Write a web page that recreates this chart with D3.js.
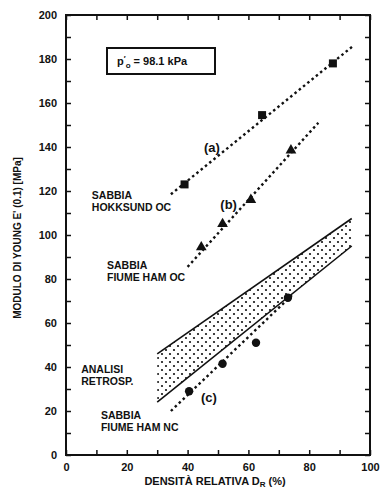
<!DOCTYPE html>
<head>
  <meta charset="utf-8">
  <script src="https://d3js.org/d3.v7.min.js"></script>
  <style>
    body { margin: 0; background: #fff; }
    text { font-family: "Liberation Sans", Arial, sans-serif; font-weight: bold; fill: #111; }
    .axis text { font-size: 11px; }
    .axis line { stroke: #111; stroke-width: 1.5; }
    .axis path { display: none; }
    .note { font-size: 10.5px; }
    .tag { font-size: 13px; }
    .trend { fill: none; stroke: #111; stroke-width: 2.4; stroke-dasharray: 2.5 3; }
    .band-edge { fill: none; stroke: #111; stroke-width: 1.6; }
  </style>
</head>
<body>
  <svg id="chart" width="382" height="488"></svg>
  <script>
    // values (D_R %, E' MPa)
    var xTicks = [0, 10, 20, 30, 40, 50, 60, 70, 80, 90, 100];
    var yTicks = d3.range(0, 201, 10);
    var hokksund = [[39, 123], [64.5, 154.5], [87.8, 178]];
    var hokksundFit = [[34.5, 118.5], [94.5, 186]];
    var hamOC = [[44.5, 94.5], [51.5, 105], [60.8, 116], [74, 138.5]];
    var hamOCFit = [[40, 85.5], [83, 151]];
    var hamNC = [[40.5, 29], [51.5, 41.5], [62.5, 51], [73, 71.5]];
    var hamNCFit = [[34.5, 20], [75, 73.5]];
    var bandUpper = [[30, 46], [94, 107.5]];
    var bandLower = [[30, 24], [94, 95]];
    var seriesTags = [['(a)', 48, 140], ['(b)', 53.5, 114], ['(c)', 47, 26]];
    var notes = [
      [['SABBIA', 'HOKKSUND OC'], 8.5, 116.5],
      [['SABBIA', 'FIUME HAM OC'], 13.5, 84.5],
      [['ANALISI', 'RETROSP.'], 5, 37.5],
      [['SABBIA', 'FIUME HAM NC'], 11.5, 16.5]
    ];

    var chart = d3.select('#chart');
    var x = d3.scaleLinear().domain([0, 100]).range([66, 370]);
    var y = d3.scaleLinear().domain([0, 200]).range([455, 15]);
    var line = d3.line().x((d) => x(d[0])).y((d) => y(d[1]));

    var defs = chart.append('defs');
    var pat = defs.append('pattern')
      .attr('id', 'dots')
      .attr('patternUnits', 'userSpaceOnUse')
      .attr('width', 8).attr('height', 8);
    pat.append('circle').attr('cx', 2).attr('cy', 2).attr('r', 1.1).attr('fill', '#111');
    pat.append('circle').attr('cx', 6).attr('cy', 6).attr('r', 1.1).attr('fill', '#111');

    // axes, ticks pointing into the frame
    chart.append('g')
      .attr('class', 'axis')
      .attr('transform', 'translate(0,' + y(0) + ')')
      .call(d3.axisBottom(x).tickValues(xTicks).tickSize(-5).tickSizeOuter(0).tickPadding(8)
        .tickFormat((d) => d % 20 === 0 ? d : ''));
    chart.append('g')
      .attr('class', 'axis')
      .attr('transform', 'translate(0,' + y(200) + ')')
      .call(d3.axisTop(x).tickValues(xTicks).tickSize(-5).tickSizeOuter(0).tickFormat(''));
    chart.append('g')
      .attr('class', 'axis')
      .attr('transform', 'translate(' + x(0) + ',0)')
      .call(d3.axisLeft(y).tickValues(yTicks).tickSize(-5).tickSizeOuter(0).tickPadding(9)
        .tickFormat((d) => d % 20 === 0 ? d : ''));
    chart.append('g')
      .attr('class', 'axis')
      .attr('transform', 'translate(' + x(100) + ',0)')
      .call(d3.axisRight(y).tickValues(yTicks).tickSize(-5).tickSizeOuter(0).tickFormat(''));

    chart.append('rect')
      .attr('x', x(0)).attr('y', y(200))
      .attr('width', x(100) - x(0)).attr('height', y(0) - y(200))
      .attr('fill', 'none').attr('stroke', '#111').attr('stroke-width', 2);

    // back-analysis band
    chart.append('path')
      .attr('d', line(bandUpper.concat(bandLower.slice().reverse())) + 'Z')
      .attr('fill', 'url(#dots)');
    chart.append('path').attr('class', 'band-edge').attr('d', line(bandUpper));
    chart.append('path').attr('class', 'band-edge').attr('d', line(bandLower));

    // fitted trends
    [hokksundFit, hamOCFit, hamNCFit].forEach((f) => {
      chart.append('path').attr('class', 'trend').attr('d', line(f));
    });

    chart.selectAll('rect.sq').data(hokksund).join('rect')
      .attr('class', 'sq')
      .attr('x', (d) => x(d[0]) - 4).attr('y', (d) => y(d[1]) - 4)
      .attr('width', 8).attr('height', 8).attr('fill', '#111');

    chart.selectAll('path.tri').data(hamOC).join('path')
      .attr('class', 'tri')
      .attr('transform', (d) => 'translate(' + x(d[0]) + ',' + y(d[1]) + ')')
      .attr('d', d3.symbol(d3.symbolTriangle, 50))
      .attr('fill', '#111');

    chart.selectAll('circle.pt').data(hamNC).join('circle')
      .attr('class', 'pt')
      .attr('cx', (d) => x(d[0])).attr('cy', (d) => y(d[1]))
      .attr('r', 4.2).attr('fill', '#111');

    seriesTags.forEach((t) => {
      chart.append('text').attr('class', 'tag')
        .attr('x', x(t[1])).attr('y', y(t[2]) + 4.5)
        .attr('text-anchor', 'middle').text(t[0]);
    });

    notes.forEach((n) => {
      var t = chart.append('text').attr('class', 'note')
        .attr('x', x(n[1])).attr('y', y(n[2]));
      n[0].forEach((s, i) => {
        t.append('tspan').attr('x', x(n[1])).attr('dy', i ? 12 : 0).text(s);
      });
    });

    // pressure box
    chart.append('rect')
      .attr('x', 107).attr('y', 48).attr('width', 108).attr('height', 26)
      .attr('fill', 'none').attr('stroke', '#111').attr('stroke-width', 2);
    var p = chart.append('text').attr('x', 117).attr('y', 65).style('font-size', '11px');
    p.append('tspan').text('p');
    p.append('tspan').attr('dy', -4).style('font-size', '8px').text('\u2032');
    p.append('tspan').attr('dy', 7).style('font-size', '8px').text('o');
    p.append('tspan').attr('dy', -3).text(' = 98.1 kPa');

    // axis titles
    chart.append('text')
      .attr('transform', 'translate(21,238) rotate(-90)')
      .attr('text-anchor', 'middle')
      .style('font-size', '10px')
      .text('MODULO DI YOUNG E\' (0.1) [MPa]');
    var xt = chart.append('text')
      .attr('x', 215).attr('y', 485)
      .attr('text-anchor', 'middle')
      .style('font-size', '11px')
      .text('DENSITÀ RELATIVA D');
    xt.append('tspan').attr('dy', 2).style('font-size', '8px').text('R');
    xt.append('tspan').attr('dy', -2).text(' (%)');
  </script>
</body>
</html>
